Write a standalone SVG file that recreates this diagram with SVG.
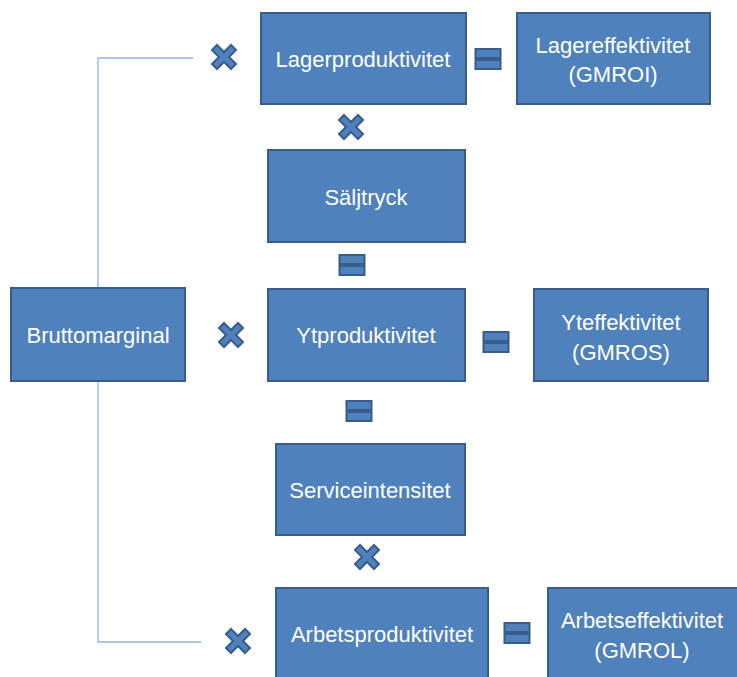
<svg xmlns="http://www.w3.org/2000/svg" xmlns:xlink="http://www.w3.org/1999/xlink" width="737" height="677" viewBox="0 0 737 677">
<style>
.box{fill:#4f81bd;stroke:#385d8a;stroke-width:2}
.t{fill:#fff;font-family:"Liberation Sans",Arial,sans-serif;font-size:22px;text-anchor:middle;dominant-baseline:central}
.op{fill:#4f81bd;stroke:#385d8a;stroke-width:2}
.conn{fill:none;stroke:#8eb4e3;stroke-width:1.3}
</style>
<defs>
<path id="mul" class="op" d="M-7,-12 L0,-5 L7,-12 L12,-7 L5,0 L12,7 L7,12 L0,5 L-7,12 L-12,7 L-5,0 L-12,-7 Z"/>
<g id="eq"><rect class="op" x="-12.5" y="-10" width="25" height="9"/><rect class="op" x="-12.5" y="1" width="25" height="9"/></g>
</defs>
<rect width="737" height="677" fill="#fff"/>
<g id="connectors">
<path class="conn" d="M193,58 H98 V288 M98,381 V642 H201"/>
</g>
<g id="operators">
<use xlink:href="#mul" x="224" y="57"/>
<use xlink:href="#mul" x="351" y="127"/>
<use xlink:href="#mul" x="231" y="335"/>
<use xlink:href="#mul" x="367" y="557"/>
<use xlink:href="#mul" x="238" y="641"/>
<use xlink:href="#eq" x="488" y="59"/>
<use xlink:href="#eq" x="352" y="265"/>
<use xlink:href="#eq" x="496" y="342"/>
<use xlink:href="#eq" x="359" y="411"/>
<use xlink:href="#eq" x="517" y="633"/>
</g>
<g id="bruttomarginal"><rect class="box" x="11" y="288" width="174" height="93"/><text class="t" x="98" y="335">Bruttomarginal</text></g>
<g id="lagerproduktivitet"><rect class="box" x="261" y="13" width="205" height="91"/><text class="t" x="363" y="59">Lagerproduktivitet</text></g>
<g id="lagereffektivitet"><rect class="box" x="517" y="13" width="193" height="91"/><text class="t" x="613" y="45">Lagereffektivitet</text><text class="t" x="613" y="74">(GMROI)</text></g>
<g id="saljtryck"><rect class="box" x="268" y="150" width="197" height="92"/><text class="t" x="366" y="197">Säljtryck</text></g>
<g id="ytproduktivitet"><rect class="box" x="268" y="289" width="197" height="92"/><text class="t" x="366" y="335">Ytproduktivitet</text></g>
<g id="yteffektivitet"><rect class="box" x="534" y="289" width="174" height="92"/><text class="t" x="621" y="322">Yteffektivitet</text><text class="t" x="621" y="352">(GMROS)</text></g>
<g id="serviceintensitet"><rect class="box" x="276" y="444" width="189" height="91"/><text class="t" x="370" y="490">Serviceintensitet</text></g>
<g id="arbetsproduktivitet"><rect class="box" x="276" y="588" width="212" height="95"/><text class="t" x="382" y="634">Arbetsproduktivitet</text></g>
<g id="arbetseffektivitet"><rect class="box" x="548" y="588" width="195" height="95"/><text class="t" x="642" y="620">Arbetseffektivitet</text><text class="t" x="642" y="650">(GMROL)</text></g>
</svg>
